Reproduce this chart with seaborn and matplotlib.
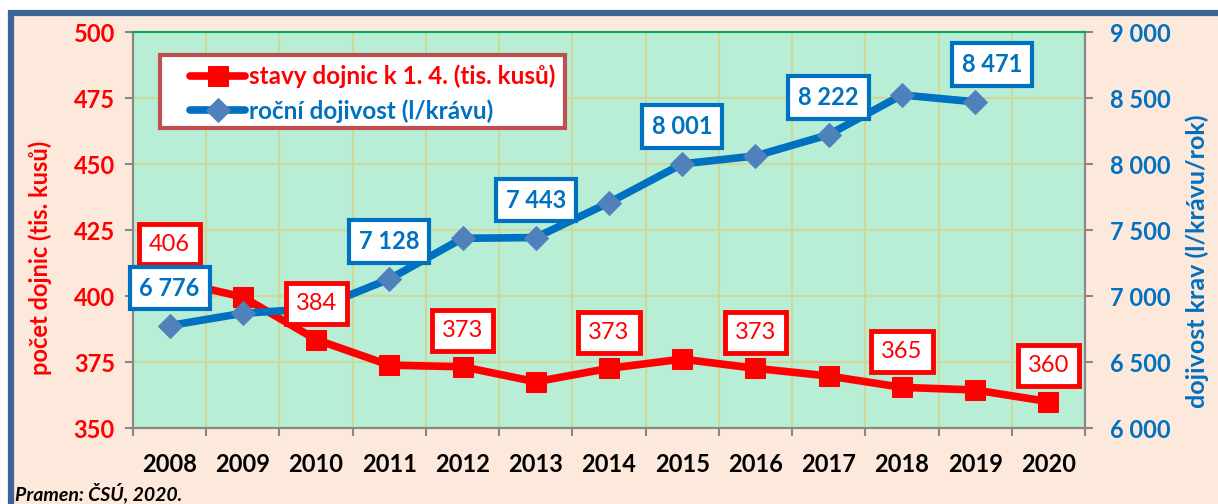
"""Stavy dojnic a roční dojivost, 2008-2020."""
import matplotlib
matplotlib.use("Agg")
import matplotlib.pyplot as plt
from matplotlib.patches import Rectangle
from matplotlib.ticker import FuncFormatter, MultipleLocator
import seaborn as sns
import pandas as pd

years = list(range(2008, 2021))
cows = [406, 399.6, 383.5, 373.8, 373.2, 367.5, 372.6, 376.1, 372.6, 369.7, 365.4, 364.4, 360]
cow_labels = {2008: "406", 2010: "384", 2012: "373", 2014: "373", 2016: "373", 2018: "365", 2020: "360"}
milk_years = list(range(2008, 2020))
milk = [6776, 6869, 6905, 7128, 7437, 7443, 7707, 8001, 8061, 8222, 8523, 8471]
milk_labels = {2008: "6 776", 2011: "7 128", 2013: "7 443", 2015: "8 001", 2017: "8 222", 2019: "8 471"}

RED, BLUE, DIAMOND = "#FF0000", "#0070C0", "#4F81BD"
FONT = ["Lato", "DejaVu Sans"]
GRID, SPINE = "#CCD99A", "#888888"


def main():
    sns.set_theme(style="white")
    plt.rcParams["font.family"] = FONT
    df_cows = pd.DataFrame({"rok": years, "stavy": cows})
    df_milk = pd.DataFrame({"rok": milk_years, "dojivost": milk})

    fig = plt.figure(figsize=(12.18, 5.04), dpi=100, facecolor="white")
    fig.patches.append(Rectangle((11 / 1218, -0.1), 1.2, 1 - 13 / 504 + 0.1, transform=fig.transFigure,
                                 facecolor="#FDE9DB", edgecolor="#3C6496", lw=4.5, zorder=-1))
    ax = fig.add_axes([133 / 1218, 1 - 428 / 504, 952 / 1218, 396 / 504])
    ax.set_facecolor("#B8EED6")
    ax2 = ax.twinx()
    ax.set_zorder(1)
    ax2.set_zorder(2)
    ax2.patch.set_visible(False)

    sns.lineplot(data=df_cows, x="rok", y="stavy", ax=ax, color=RED, lw=5.5, marker="s", ms=15,
                 mfc=RED, mec=RED, label="stavy dojnic k 1. 4. (tis. kusů)", legend=False, zorder=3)
    sns.lineplot(data=df_milk, x="rok", y="dojivost", ax=ax2, color=BLUE, lw=5.5, marker="D", ms=12,
                 mfc=DIAMOND, mec=DIAMOND, label="roční dojivost (l/krávu)", legend=False, zorder=3)

    ax.set_xlim(2007.5, 2020.5)
    ax.set_ylim(350, 500)
    ax2.set_ylim(6000, 9000)
    ax.yaxis.set_major_locator(MultipleLocator(25))
    ax2.yaxis.set_major_locator(MultipleLocator(500))
    ax2.yaxis.set_major_formatter(FuncFormatter(lambda v, p: f"{int(v):,}".replace(",", " ")))
    ax.set_xticks(years)
    ax.set_xticklabels([str(y) for y in years])
    ax.set_xticks([y + 0.5 for y in [2007] + years], minor=True)
    ax.grid(True, which="minor", axis="x", color=GRID, lw=1.5)
    ax.grid(True, which="major", axis="y", color=GRID, lw=1.5)
    ax.tick_params(axis="x", which="major", length=0, pad=18, labelsize=17, labelcolor="black")
    ax.tick_params(axis="x", which="minor", length=6, width=1.5, color=SPINE, direction="out", bottom=True)
    ax.tick_params(axis="y", length=6, width=1.5, color=SPINE, direction="out", left=True,
                   labelsize=17, labelcolor=RED, pad=7)
    ax2.tick_params(axis="y", length=6, width=1.5, color=SPINE, direction="out", right=True,
                    labelsize=17, labelcolor=BLUE, pad=12)
    for a in (ax, ax2):
        for lab in a.get_xticklabels() + a.get_yticklabels():
            lab.set_fontweight("bold")
        for side in ("left", "right", "bottom"):
            a.spines[side].set_color(SPINE)
            a.spines[side].set_linewidth(1.5)
        a.spines["top"].set_color("#00B050")
        a.spines["top"].set_linewidth(1.5)
    ax.set_xlabel("")
    ax.set_ylabel("počet dojnic (tis. kusů)", color=RED, fontsize=17, fontweight="bold")
    ax2.set_ylabel("dojivost krav (l/krávu/rok)", color=BLUE, fontsize=18, fontweight="bold")
    ax.yaxis.set_label_coords(-0.085, 0.43)
    ax2.yaxis.set_label_coords(1.106, 0.42)

    # all value boxes live on the top axes so they cover both lines
    for yr, txt in cow_labels.items():
        ax2.annotate(txt, (yr, cows[years.index(yr)]), xycoords=ax.transData, xytext=(0, 26),
                     textcoords="offset points", ha="center", va="center", fontsize=17, color=RED,
                     zorder=5, bbox=dict(boxstyle="square,pad=0.42", fc="white", ec=RED, lw=3.5))
    for yr, txt in milk_labels.items():
        dx = 12 if yr == milk_years[-1] else 0
        ax2.annotate(txt, (yr, milk[milk_years.index(yr)]), xytext=(dx, 27), textcoords="offset points",
                     ha="center", va="center", fontsize=17, color=BLUE, fontweight="bold", zorder=5,
                     bbox=dict(boxstyle="square,pad=0.42", fc="white", ec=BLUE, lw=3))

    # legend frame drawn separately so the handles can sit indented as in the original
    ax2.add_patch(Rectangle((0.0284, 0.7576), 0.4254, 0.1843, transform=ax2.transAxes,
                            fc="white", ec="#C0504D", lw=3, zorder=6))
    h1, l1 = ax.get_legend_handles_labels()
    h2, l2 = ax2.get_legend_handles_labels()
    leg = ax2.legend(h1 + h2, l1 + l2, loc="upper left", bbox_to_anchor=(0.06, 0.918), frameon=False,
                     fontsize=17.5, handlelength=2.26, handletextpad=0.17, borderpad=0,
                     labelspacing=0.45, borderaxespad=0)
    leg.set_zorder(7)
    for txt, col in zip(leg.get_texts(), (RED, BLUE)):
        txt.set_color(col)
        txt.set_fontweight("bold")

    fig.text(15 / 1218, 1 - 493 / 504, "Pramen: ČSÚ, 2020.", fontsize=14, fontweight="bold",
             style="italic", va="center", ha="left", color="black")
    fig.savefig("out.png", dpi=100, facecolor=fig.get_facecolor())


if __name__ == "__main__":
    main()
